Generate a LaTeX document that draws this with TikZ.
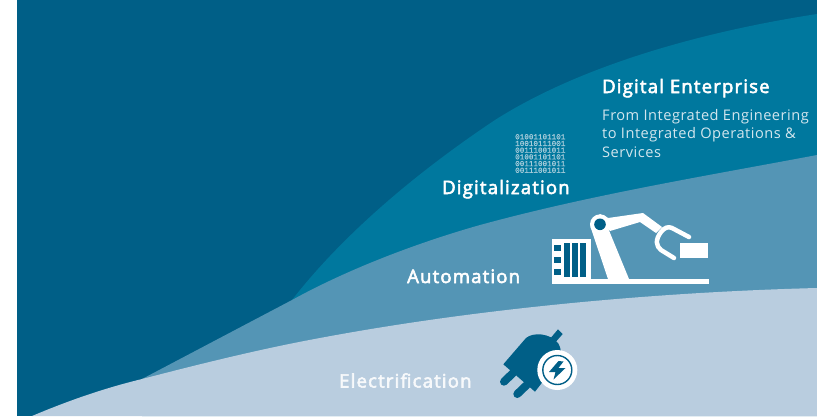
\documentclass[tikz,border=0pt]{standalone}
\usepackage{fontspec}
\setmainfont{Open Sans}
\newfontfamily\binfont[FakeBold=1]{Liberation Mono}
\newfontfamily\titlefont[FakeBold=3,LetterSpace=6.5]{Open Sans}
\newfontfamily\subfont[LetterSpace=3.5]{Open Sans}
\definecolor{cdark}{HTML}{005F87}
\definecolor{cteal}{HTML}{00789E}
\definecolor{cmid}{HTML}{5495B5}
\definecolor{clight}{HTML}{B9CDDF}
\definecolor{csub}{HTML}{D3E6EE}
\definecolor{cbin}{HTML}{A6CCDA}
\tikzset{
  title/.style={text=white,font=\titlefont\fontsize{18.5}{20}\selectfont,inner sep=0pt,anchor=base west},
  subtitle/.style={text=csub,font=\subfont\fontsize{14.6}{18.4}\selectfont,inner sep=0pt,anchor=north west,align=left},
  bintext/.style={text=cbin,font=\binfont\fontsize{7.6}{6.7}\selectfont,inner sep=0pt,align=left},
  grip/.style={draw=white,line width=4.5pt,line cap=round,line join=round}
}
\begin{document}
\begin{tikzpicture}[x=1pt,y=-1pt]
\useasboundingbox (0,0) rectangle (817,416);
\fill[white] (0,0) rectangle (817,416);
\fill[cdark] (17,0) rectangle (817,416);
% bands
\fill[cteal] (292,300) .. controls (345,232) and (420,170) .. (495,120)
  .. controls (580,66) and (700,32) .. (817,14) -- (817,300) -- cycle;
\fill[cmid] (142,379) -- (292,300) .. controls (350,268) and (420,242) .. (480,225)
  .. controls (590,195) and (700,177) .. (817,155) -- (817,416) -- (142,416) -- cycle;
\fill[clight] (32,416) .. controls (70,400) and (105,388) .. (142,379)
  .. controls (200,364) and (260,349) .. (320,338)
  .. controls (480,308) and (660,292) .. (817,288) -- (817,416) -- cycle;
% robot
\fill[white] (552,239) rectangle (591,284);
\fill[white] (552,279) rectangle (709,284);
\foreach \yy in {245,257,269} \fill[cdark] (554,\yy) rectangle (560.5,\yy+6);
\foreach \xx in {564.3,572.3,580.3} \fill[cdark] (\xx,243) rectangle (\xx+5.4,277);
\fill[white] (590.5,227) -- (608,279) -- (629,279) -- (608,228) -- (610,231) -- (640,222) -- (656,233) -- (662,227) -- (643,213) -- (608,218) -- (600,214) -- cycle;
\fill[white] (600,224.3) circle[radius=10];
\fill[cdark] (600,224.3) circle[radius=5.8];
\draw[grip] (689,237) -- (672,228) .. controls (668,226) and (664,228) .. (661,232)
  .. controls (655,240) and (656,246) .. (661,250) -- (674,258);
\fill[white] (680,243) rectangle (708,258);
% plug
\draw[cdark,line width=8pt,line cap=round] (513.3,372.7) -- (504,381.7);
\draw[cdark,line width=8pt,line cap=round] (526.7,385) -- (517.3,394);
\fill[cdark] (549,340) -- (558,329.3) -- (562.7,334) -- (553,345) -- cycle;
\fill[cdark] (503.3,364.3) -- (526,338) .. controls (533,332) and (550,333) .. (558,343)
  .. controls (562,350) and (562,356) .. (558,362) -- (535,391.7) -- cycle;
\fill[white] (557.3,370) circle[radius=20];
\draw[cdark,line width=1.4pt] (557.3,370) circle[radius=14.5];
\fill[cdark] (558.5,361) -- (549,372) -- (555.5,372) -- (553.5,379.5) -- (565.5,368) -- (558.5,368) -- (563.5,361.5) -- cycle;
% text
\node[title] (enterprise) at (602,93) {Digital Enterprise};
\node[subtitle] (subline) at (602,109) {From Integrated Engineering\\to Integrated Operations \&\\Services};
\node[title] (digitalization) at (442,194) {Digitalization};
\node[title] (automation) at (407,283) {Automation};
\node[title,text=white!88!clight] (electrification) at (339,387.5) {Electrification};
\node[bintext,anchor=north west] (binary) at (515,134) {01001101101\\10010111001\\00111001011\\01001101101\\00111001011\\00111001011};
\end{tikzpicture}
\end{document}
